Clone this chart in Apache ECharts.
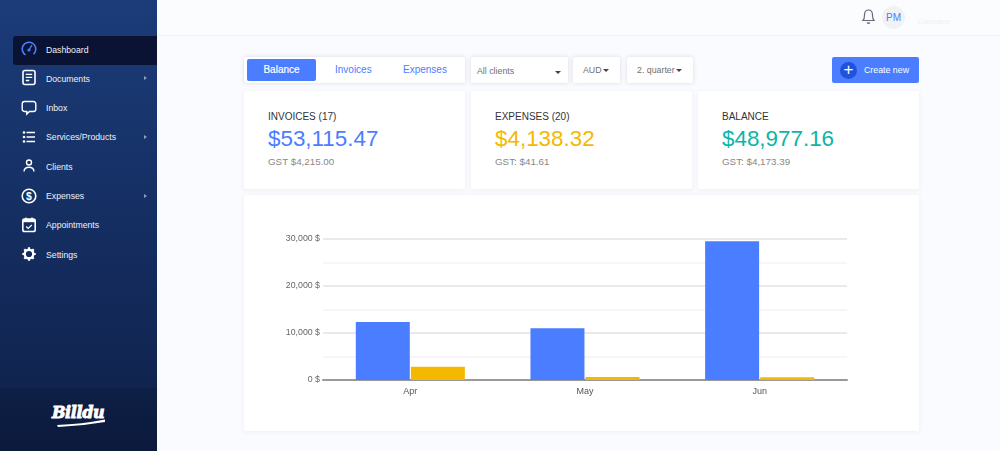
<!DOCTYPE html>
<html>
<head>
<meta charset="utf-8">
<title>Dashboard</title>
<script src="https://cdn.jsdelivr.net/npm/echarts@6/dist/echarts.min.js"></script>
<style>
  html, body { margin: 0; padding: 0; }
  body { width: 1000px; height: 451px; overflow: hidden; position: relative; background: #fafbfe; font-family: "Liberation Sans", Arial, sans-serif; }
  .abs { position: absolute; }
  #side { left: 0; top: 0; width: 157px; height: 451px; background: linear-gradient(180deg, #1b3c7a 0%, #10244f 86%, #10244f 100%); }
  #sideBottom { left: 0; top: 388px; width: 157px; height: 63px; background: linear-gradient(180deg, #0e1f46, #0b1a3b); }
  #active { left: 13px; top: 36px; width: 144px; height: 29px; background: #0a1333; border-radius: 3px 0 0 3px; }
  .nav { left: 46px; color: #eef1f8; font-size: 8.7px; line-height: 12px; white-space: nowrap; }
  .arrow { left: 144px; width: 0; height: 0; border-left: 3px solid #8ea0c4; border-top: 2.5px solid transparent; border-bottom: 2.5px solid transparent; }
  .icon { left: 20px; width: 18px; height: 18px; }
  #logo { left: 52px; top: 403px; color: #fff; font: italic bold 16px "DejaVu Serif", serif; letter-spacing: -0.4px; -webkit-text-stroke: 0.9px #fff; }
  #topbar { left: 157px; top: 0; width: 843px; height: 35px; border-bottom: 1px solid #f0f1f6; background: #fbfcfe; }
  #avatar { left: 882px; top: 6px; width: 23px; height: 23px; border-radius: 50%; background: #f1f2f4; color: #4a7dff; font-size: 10px; line-height: 24px; text-align: center; }
  #userName { left: 918px; top: 18px; color: #f0f1f5; font-size: 7px; }
  .box { background: #fff; border-radius: 2px; box-shadow: 0 0 4px rgba(60,70,110,.18); }
  .card { background: #fff; border-radius: 2px; box-shadow: 0 1px 5px rgba(60,70,110,.07); }
  #tabOn { left: 247px; top: 59px; width: 69px; height: 22px; background: #4a7dff; border-radius: 2px; color: #fff; font-size: 10px; line-height: 22px; text-align: center; -webkit-text-stroke: 0.2px #fff; }
  .tab { top: 64px; color: #4a7dff; font-size: 10px; line-height: 12px; }
  .sel { color: #6f6f6f; font-size: 8.8px; line-height: 12px; white-space: nowrap; }
  .caret { width: 0; height: 0; border-top: 3px solid #444; border-left: 3px solid transparent; border-right: 3px solid transparent; }
  #create { left: 832px; top: 57px; width: 87px; height: 26px; background: #4a7dff; border-radius: 2px; }
  #plus { left: 840px; top: 62px; width: 17px; height: 17px; border-radius: 50%; background: #1f53dc; color: #fff; font-size: 17px; line-height: 16px; text-align: center; }
  #createText { left: 864px; top: 64px; color: #fff; font-size: 8.8px; line-height: 12px; }
  .kTitle { top: 110px; color: #333; font-size: 10px; line-height: 13px; white-space: nowrap; }
  .kValue { top: 126px; font-size: 22.4px; line-height: 26px; white-space: nowrap; }
  .kGst { top: 156px; color: #888; font-size: 9.8px; line-height: 12px; white-space: nowrap; }
  #chartCard { left: 244px; top: 195px; width: 675px; height: 236px; }
  #chart { left: 244px; top: 195px; width: 675px; height: 236px; }
</style>
</head>
<body>
<div class="abs" id="side"></div>
<div class="abs" id="sideBottom"></div>
<div class="abs" id="active"></div>
<div id="navList"></div>
<div class="abs" id="logo">Billdu</div>
<svg class="abs" style="left:56px;top:418px" width="52" height="9"><path d="M1 7 Q26 6 49 1.5 L49 4 Q26 8 2 9 Z" fill="#fff"/></svg>

<div class="abs" id="topbar"></div>
<svg class="abs" style="left:861px;top:8px" width="15" height="17" viewBox="0 0 15 17" fill="none" stroke="#666b7c" stroke-width="1.2"><path d="M2 12.5 Q3.5 11 3.5 7 Q3.5 2 7.5 2 Q11.5 2 11.5 7 Q11.5 11 13 12.5 Z"/><path d="M6 14.5 Q7.5 16 9 14.5"/></svg>
<div class="abs" id="avatar">PM</div>
<div class="abs" id="userName">Username</div>

<div class="abs box" style="left:244px;top:57px;width:221px;height:26px"></div>
<div class="abs" id="tabOn">Balance</div>
<div class="abs tab" style="left:335px">Invoices</div>
<div class="abs tab" style="left:403px">Expenses</div>
<div class="abs box" style="left:471px;top:57px;width:97px;height:26px"></div>
<div class="abs sel" style="left:477px;top:65px">All clients</div>
<div class="abs caret" style="left:555px;top:71px"></div>
<div class="abs box" style="left:573px;top:57px;width:47px;height:26px"></div>
<div class="abs sel" style="left:583px;top:64px">AUD</div>
<div class="abs caret" style="left:603px;top:69px"></div>
<div class="abs box" style="left:627px;top:57px;width:66px;height:26px"></div>
<div class="abs sel" style="left:637px;top:64px">2. quarter</div>
<div class="abs caret" style="left:676px;top:69px"></div>
<div class="abs" id="create"></div>
<div class="abs" id="plus">+</div>
<div class="abs" id="createText">Create new</div>

<div class="abs card" style="left:244px;top:91px;width:221px;height:98px"></div>
<div class="abs card" style="left:471px;top:91px;width:221px;height:98px"></div>
<div class="abs card" style="left:698px;top:91px;width:221px;height:98px"></div>
<div id="kpiList"></div>

<div class="abs card" id="chartCard"></div>
<div class="abs" id="chart"></div>

<script>
// menu and summary text
var navItems = ['Dashboard', 'Documents', 'Inbox', 'Services/Products', 'Clients', 'Expenses', 'Appointments', 'Settings'];
var navWithArrow = ['Documents', 'Services/Products', 'Expenses'];
var kpiTitles = ['INVOICES (17)', 'EXPENSES (20)', 'BALANCE'];
var kpiValues = ['$53,115.47', '$4,138.32', '$48,977.16'];
var kpiGst = ['GST $4,215.00', 'GST: $41.61', 'GST: $4,173.39'];
var kpiColors = ['#4a7dff', '#f5b800', '#0db5a6'];
var kpiLeft = [268, 495, 722];

// chart data
var months = ['Apr', 'May', 'Jun'];
var invoices = [12340, 11000, 29500];
var expenses = [2830, 640, 570];

var icons = [
  '<circle cx="9" cy="9" r="6.8" fill="none" stroke="#4a7dff" stroke-width="1.6" stroke-dasharray="34 9" transform="rotate(120 9 9)"/><circle cx="9" cy="10" r="1.6" fill="#4a7dff"/><path d="M9 10 L12 5" stroke="#4a7dff" stroke-width="1.4"/>',
  '<rect x="3" y="1.5" width="12" height="14" rx="2" fill="none" stroke="#fff" stroke-width="1.6"/><path d="M5.8 5.3h6.4M5.8 8.4h6.4M5.8 11.5h3.5" stroke="#fff" stroke-width="1.3"/>',
  '<path d="M4.5 2.5h9a2.3 2.3 0 0 1 2.3 2.3v5.4a2.3 2.3 0 0 1-2.3 2.3H9.5l-2.7 2.6v-2.6H4.5a2.3 2.3 0 0 1-2.3-2.3V4.8a2.3 2.3 0 0 1 2.3-2.3z" fill="none" stroke="#fff" stroke-width="1.4"/>',
  '<path d="M6.5 4.5h8.5M6.5 9h8.5M6.5 13.5h8.5" stroke="#fff" stroke-width="1.5"/><circle cx="4" cy="4.5" r="1.3" fill="#fff"/><circle cx="4" cy="9" r="1.3" fill="#fff"/><circle cx="4" cy="13.5" r="1.3" fill="#fff"/>',
  '<circle cx="9" cy="5.5" r="2.5" fill="none" stroke="#fff" stroke-width="1.4"/><path d="M4 14.5 Q4.3 10.3 9 10.3 Q13.7 10.3 14 14.5" fill="none" stroke="#fff" stroke-width="1.4"/>',
  '<circle cx="9" cy="9" r="6.8" fill="none" stroke="#fff" stroke-width="1.6"/><text x="9" y="12.6" font-size="10.5" font-weight="bold" text-anchor="middle" fill="#fff" font-family="Liberation Sans">$</text>',
  '<rect x="2.8" y="3" width="12.4" height="12.5" rx="1.8" fill="none" stroke="#fff" stroke-width="1.6"/><rect x="2.8" y="3" width="12.4" height="3.2" fill="#fff"/><path d="M6 1.5v3M12 1.5v3" stroke="#fff" stroke-width="1.4"/><path d="M6.2 10.5 L8.2 12.4 L11.8 9" fill="none" stroke="#fff" stroke-width="1.3"/>',
  '<circle cx="9" cy="9" r="4.3" fill="none" stroke="#fff" stroke-width="2.4"/><path d="M9 2.3v2.5M9 13.2v2.5M2.3 9h2.5M13.2 9h2.5M4.3 4.3l1.7 1.7M12 12l1.7 1.7M13.7 4.3L12 6M6 12l-1.7 1.7" stroke="#fff" stroke-width="2.2"/>'
];

var navHtml = '';
navItems.forEach(function (name, i) {
  var y = 49.5 + i * 29.3;
  navHtml += '<svg class="abs icon" viewBox="0 0 18 18" style="top:' + (y - 9.5) + 'px">' + icons[i] + '</svg>';
  navHtml += '<div class="abs nav" style="top:' + (y - 6) + 'px">' + name + '</div>';
  if (navWithArrow.indexOf(name) >= 0) {
    navHtml += '<div class="abs arrow" style="top:' + (y - 2.5) + 'px"></div>';
  }
});
document.getElementById('navList').innerHTML = navHtml;

var kpiHtml = '';
kpiTitles.forEach(function (title, i) {
  kpiHtml += '<div class="abs kTitle" style="left:' + kpiLeft[i] + 'px">' + title + '</div>';
  kpiHtml += '<div class="abs kValue" style="left:' + kpiLeft[i] + 'px;color:' + kpiColors[i] + '">' + kpiValues[i] + '</div>';
  kpiHtml += '<div class="abs kGst" style="left:' + kpiLeft[i] + 'px">' + kpiGst[i] + '</div>';
});
document.getElementById('kpiList').innerHTML = kpiHtml;

var chart = echarts.init(document.getElementById('chart'), null, { renderer: 'canvas' });
chart.setOption({
  animation: false,
  textStyle: { fontFamily: '"Liberation Sans", Arial, sans-serif' },
  grid: { left: 79, right: 72, top: 44, bottom: 51 },
  xAxis: {
    type: 'category',
    data: months,
    axisTick: { show: false },
    axisLine: { lineStyle: { color: '#999', width: 2 } },
    axisLabel: { color: '#555', fontSize: 9, margin: 7 }
  },
  yAxis: {
    type: 'value',
    min: 0,
    max: 30000,
    interval: 5000,
    axisLine: { show: false },
    axisTick: { show: false },
    axisLabel: {
      color: '#666',
      fontSize: 8.8,
      margin: 3,
      padding: [4, 0, 0, 0],
      formatter: function (v) {
        return v % 10000 === 0 ? v.toLocaleString('en-US') + ' $' : '';
      }
    },
    // major / minor lines alternate
    splitLine: { lineStyle: { color: ['#e3e3e3', '#f3f3f3'], width: 1.5 } }
  },
  series: [
    { type: 'bar', data: invoices, barWidth: 54, barGap: '2%', itemStyle: { color: '#4a7dff' } },
    { type: 'bar', data: expenses, barWidth: 54, itemStyle: { color: '#f5b800' } }
  ]
});
</script>
</body>
</html>
